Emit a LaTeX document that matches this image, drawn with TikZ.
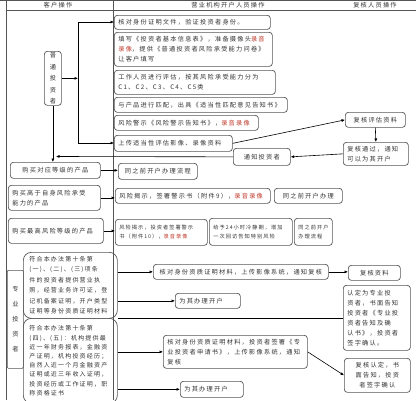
\documentclass[tikz,border=0pt]{standalone}
\usepackage{fontspec}
\setmainfont{Noto Sans CJK SC}
\newfontfamily\cjkA[LetterSpace=20]{Noto Sans CJK SC}
\usetikzlibrary{arrows.meta}
\definecolor{boxc}{HTML}{555555}
\definecolor{txt}{HTML}{333333}
\definecolor{rec}{HTML}{C0392B}
\newcommand\rl[1]{\textcolor{rec}{#1}}
\newcommand\fa{\cjkA\fontsize{6.2}{10}\selectfont}
\newcommand\fb{\cjkA\fontsize{5.2}{9}\selectfont}
\newcommand\fc{\cjkA\fontsize{6}{10.5}\selectfont}
\newcommand\mybox[7][]{%
  \pgfmathsetmacro\bw{#5-#3}\pgfmathsetmacro\bh{#6-#4}\pgfmathsetmacro\tw{#5-#3-8}%
  \node[box, anchor=north west, minimum width=\bw pt, minimum height=\bh pt, text width=\tw pt, #1] (#2) at (#3,-#4) {#7};}
\begin{document}
\begin{tikzpicture}[x=1pt,y=1pt,
  box/.style={draw=boxc, line width=0.7pt, rounded corners=3pt, inner xsep=4pt, inner ysep=1pt, text=txt, font=\fa, align=left},
  hdr/.style={text=txt, font=\fa, inner sep=0pt},
  arr/.style={-{Latex[length=3.5pt,width=3pt]}, line width=0.6pt},
  ln/.style={line width=0.6pt},
  tbl/.style={draw=boxc, line width=0.6pt}]
\useasboundingbox (0,0) rectangle (416,-400);
\fill[white] (0,0) rectangle (416,-400);
% table
\draw[tbl] (0,-0.5) -- (416,-0.5);
\draw[tbl] (6,-10) -- (416,-10);
\draw[tbl] (6,0) -- (6,-400);
\draw[tbl] (113,0) -- (113,-400);
\node[hdr] (h1) at (58,-5) {客户操作};
\node[hdr] (h2) at (228,-5) {营业机构开户人员操作};
\node[hdr] (h3) at (375,-5) {复核人员操作};
% ordinary investors
\mybox{n1}{114}{15}{270}{29}{核对身份证明文件，验证投资者身份。}
\mybox{n2}{114}{32}{272}{66}{填写《投资者基本信息表》，准备摄像头\rl{录音}\\\rl{录像}，提供《普通投资者风险承受能力问卷》\\让客户填写}
\mybox{n3}{114}{70}{275}{94}{工作人员进行评估，按其风险承受能力分为\\C1、C2、C3、C4、C5类}
\mybox{n4}{114}{97}{287}{112}{与产品进行匹配，出具《适当性匹配意见告知书》}
\mybox{n5}{114}{115}{258}{130}{风险警示《风险警示告知书》，\rl{录音录像}}
\mybox{n6}{114}{135}{232}{151}{上传适当性评估影像、录像资料}
\mybox[align=center]{n7}{345}{112}{405}{127}{复核评估资料}
\mybox{n8}{343}{142}{408}{165}{复核通过，通知\\可以为其开户}
\mybox[align=center]{n9}{233}{148}{290}{165}{通知投资者}
\mybox[align=center,inner xsep=0pt,font={\cjkA\fontsize{6.2}{11.5}\selectfont}]{n10}{44}{51}{61}{105}{普\\通\\投\\资\\者}
\mybox[align=center]{n11}{10}{162}{100}{178}{购买对应等级的产品}
\mybox[align=center]{n12}{118}{163}{197}{179}{同之前开户办理流程}
\mybox{n13}{8}{185}{100}{210}{购买高于自身风险承受\\能力的产品}
\mybox{n14}{115}{188}{270}{203}{风险揭示，签署警示书（附件9），\rl{录音录像}}
\mybox[align=center]{n15}{274}{188}{342}{203}{同之前开户办理}
\mybox{n16}{8}{218}{103}{243}{购买最高风险等级的产品}
\mybox[font=\fb]{n17}{115}{219}{207}{245}{风险揭示，投资者签署警示\\书（附件10），\rl{录音录像}}
\mybox[font=\fb]{n18}{209}{218}{292}{245}{给予24小时冷静期，增加\\一次回访告知特别风险}
\mybox[font=\fb,inner xsep=2pt]{n19}{294}{218}{332}{245}{同之前开户\\办理流程}
% professional investors
\mybox[align=center,inner xsep=0pt,rounded corners=1pt,font={\cjkA\fontsize{6.2}{15}\selectfont}]{n20}{7}{270}{23}{368}{专\\业\\投\\资\\者}
\mybox[font=\fc,rounded corners=8pt,inner xsep=6pt]{n21}{23}{252}{113}{318}{符合本办法第十条第\\(一)、(二)、(三)项条\\件的投资者提供营业执\\照，经营业务许可证，登\\记机备案证明，开户类型\\证明等身份资质证明材料}
\mybox[font={\cjkA\fontsize{6}{9.2}\selectfont},rounded corners=8pt,inner xsep=6pt]{n22}{23}{318}{113}{403}{符合本办法第十条第\\(四)、(五)：机构提供最\\近一年财务报表，金融资\\产证明，机构投资经历；\\自然人近一个月金融资产\\证明或近三年收入证明，\\投资经历或工作证明，职\\称资格证书}
\mybox[align=center]{n23}{153}{264}{328}{279}{核对身份资质证明材料，上传影像系统，通知复核}
\mybox[align=center]{n24}{348}{265}{400}{280}{复核资料}
\mybox{n25}{175}{293}{240}{308}{为其办理开户}
\mybox{n26}{343}{285}{410}{350}{认定为专业投\\资者，书面告知\\投资者《专业投\\资者告知及确\\认书》，投资者\\签字确认。}
\mybox{n27}{163}{335}{307}{368}{核对身份资质证明材料，投资者签署《专\\业投资者申请书》，上传影像系统，通知\\复核}
\mybox[align=center]{n28}{344}{358}{410}{392}{复核认定，书\\面告知，投资\\者签字确认}
\mybox{n29}{180}{381}{243}{397}{为其办理开户}
% connectors ordinary
\coordinate (jt) at (78,-22);
\coordinate (jb) at (78,-143);
\coordinate (nt) at (56,-156.5);
\draw[ln] (jt) -- (jb);
\draw[arr] (n10.east) -- (n10.east -| jt);
\draw[arr] (jt) -- (jt -| n1.west);
\draw[arr] (jb) -- (jb -| n6.west);
\draw[arr] (n6.east) -- (n7.west);
\draw[arr] (n7.south) -- (n8.north);
\draw[arr] (n8.west) -- (n9.east);
\draw[arr] (n9.west) -- (nt);
\draw[arr] (n10.south) -- (n10.south |- n11.north);
\draw[arr] (n11.east) -- (n11.east -| n12.west);
\draw[arr] (n13.east) -- (n13.east -| n14.west);
\draw[arr] (n16.east) -- (n16.east -| n17.west);
% connectors professional
\draw[arr] (n21.east |- n23.west) -- (n23.west);
\draw[arr] (n23.east) -- (n23.east -| n24.west);
\draw[arr] (n21.east |- n25.west) -- (n25.west);
\draw[ln] (n21.east |- n26.west) -- (n26.west);
\draw[arr] (n22.east |- n27.west) -- (n27.west);
\draw[arr] (n27.east) -- (n28.west);
\draw[arr] (n22.east |- n29.west) -- (n29.west);
\end{tikzpicture}
\end{document}
